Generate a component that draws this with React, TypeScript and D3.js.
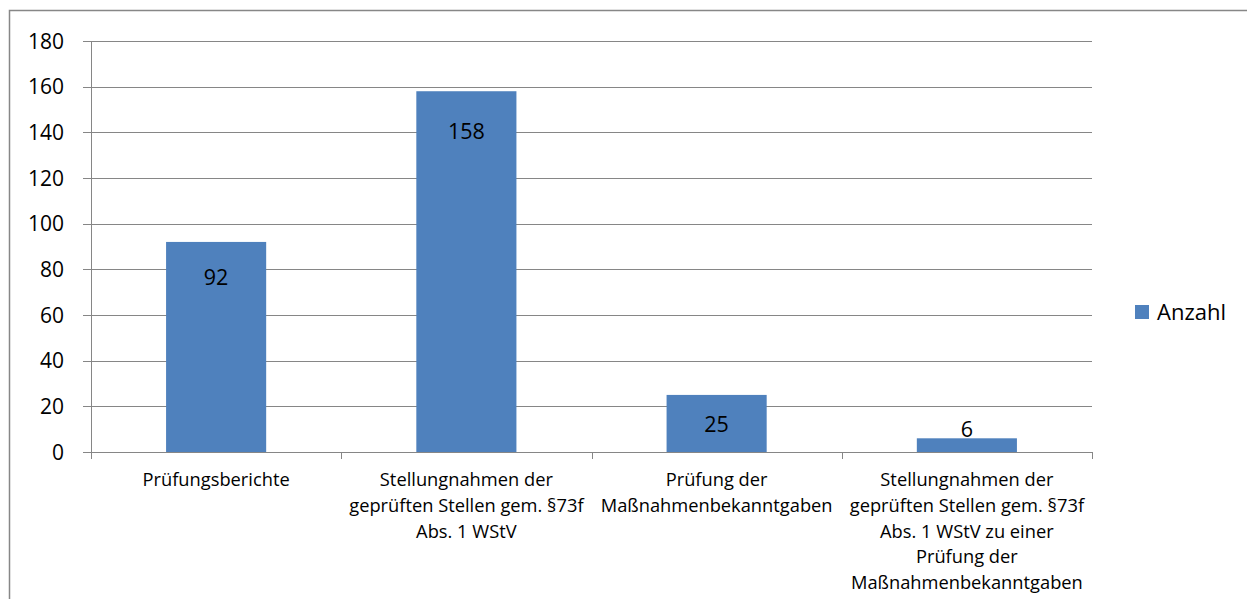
import React from "react";
import * as d3 from "d3";

const categories: string[][] = [
  ["Prüfungsberichte"],
  ["Stellungnahmen der", "geprüften Stellen gem. §73f", "Abs. 1 WStV"],
  ["Prüfung der", "Maßnahmenbekanntgaben"],
  ["Stellungnahmen der", "geprüften Stellen gem. §73f", "Abs. 1 WStV zu einer", "Prüfung der", "Maßnahmenbekanntgaben"],
];
const values: number[] = [92, 158, 25, 6];
const yTicks: number[] = [0, 20, 40, 60, 80, 100, 120, 140, 160, 180];
const seriesName = "Anzahl";
// label offset below bar top (px); negative = above bar
const labelOffsets: number[] = [35, 40, 29, -9];

const W = 1255;
const H = 607;
const FONT = "'Open Sans', Lato, sans-serif";

export default function App() {
  const left = 91;
  const right = 1092;
  const top = 41;
  const bottom = 452;
  const x = d3
    .scaleBand<number>()
    .domain(categories.map((_, i) => i))
    .range([left, right])
    .paddingInner(0.6)
    .paddingOuter(0.3);
  const band = (right - left) / categories.length;
  const y = d3.scaleLinear().domain([0, 180]).range([bottom, top]);
  const grid = "#868686";

  return (
    <div style={{ margin: -8 }}>
      <svg width={W} height={H} style={{ display: "block" }} fontFamily={FONT}>
        <rect x={0} y={0} width={W} height={H} fill="#fff" />
        <rect x={9.5} y={10.5} width={W + 10} height={H + 10} fill="none" stroke="#878787" strokeWidth={1.5} />
        {yTicks.map((t) => (
          <g key={t}>
            <line x1={left - 8} x2={right} y1={Math.round(y(t)) + 0.5} y2={Math.round(y(t)) + 0.5} stroke={grid} strokeWidth={1} />
            <text x={64} y={y(t)} dy="0.36em" textAnchor="end" fontSize={21} fill="#000">
              {t}
            </text>
          </g>
        ))}
        <line x1={left + 0.5} x2={left + 0.5} y1={top} y2={bottom + 7} stroke={grid} />
        {d3.range(categories.length + 1).map((i) => (
          <line key={i} x1={Math.round(left + i * band) + 0.5} x2={Math.round(left + i * band) + 0.5} y1={bottom} y2={bottom + 7} stroke={grid} />
        ))}
        {values.map((v, i) => (
          <rect key={i} x={x(i)!} y={y(v)} width={x.bandwidth()} height={y(0) - y(v)} fill="#4F81BD" />
        ))}
        {values.map((v, i) => (
          <text key={i} x={x(i)! + x.bandwidth() / 2} y={y(v) + labelOffsets[i]} dy="0.36em" textAnchor="middle" fontSize={21.5} fill="#000">
            {v}
          </text>
        ))}
        {categories.map((lines, i) => (
          <text key={i} x={left + (i + 0.5) * band} y={486} textAnchor="middle" fontSize={18.3} fill="#000">
            {lines.map((l, j) => (
              <tspan key={j} x={left + (i + 0.5) * band} dy={j === 0 ? 0 : 25.8}>
                {l}
              </tspan>
            ))}
          </text>
        ))}
        <rect x={1135} y={305} width={14} height={14} fill="#4F81BD" />
        <text x={1157} y={312} dy="0.36em" fontSize={22} fill="#000">
          {seriesName}
        </text>
      </svg>
    </div>
  );
}
